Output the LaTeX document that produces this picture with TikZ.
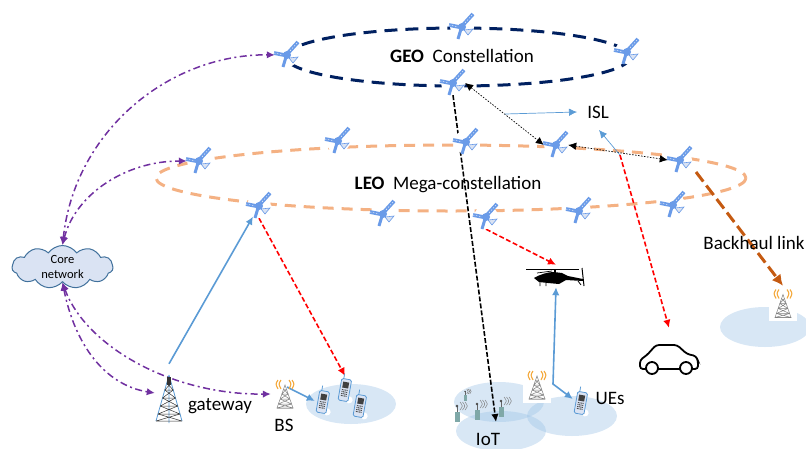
\documentclass[tikz,border=0pt]{standalone}
\usepackage{fontspec}
\setmainfont{Carlito}
\usetikzlibrary{shapes.symbols,arrows.meta}
\pgfdeclarelayer{links}
\pgfsetlayers{links,main}

\definecolor{satblue}{HTML}{6A9BE8}
\definecolor{geonavy}{HTML}{002060}
\definecolor{leopeach}{HTML}{F4B183}
\definecolor{corepurple}{HTML}{7030A0}
\definecolor{linkblue}{HTML}{5B9BD5}
\definecolor{backbrown}{HTML}{C55A11}
\definecolor{cellblue}{HTML}{9DC3E6}
\definecolor{cloudfill}{HTML}{DAE3F3}
\definecolor{cloudline}{HTML}{41719C}
\definecolor{waveorange}{HTML}{F4A93C}
\definecolor{iotteal}{HTML}{7FA8A8}

\tikzset{
  satbox/.style={circle,fill=white,inner sep=0pt,minimum size=24pt},
  towerbox/.style={inner sep=0pt,minimum width=28pt,minimum height=58pt},
  antbox/.style={fill=white,inner sep=0pt,minimum width=28pt,minimum height=35pt},
  phonebox/.style={inner sep=0pt,minimum width=16pt,minimum height=26pt},
  label/.style={inner sep=0pt,font=\fontsize{19}{21}\selectfont},
  geoorbit/.style={geonavy,line width=3pt,dash pattern=on 13pt off 8pt},
  leoorbit/.style={leopeach,line width=3pt,dash pattern=on 11pt off 8pt},
  corelink/.style={corepurple,line width=1.5pt,dash pattern=on 7pt off 3.5pt on 2pt off 3.5pt},
  bluelink/.style={linkblue,line width=1.6pt},
  isllabel/.style={linkblue,line width=.7pt},
  isllink/.style={black,line width=.7pt,dash pattern=on 1.5pt off 1.5pt},
  redlink/.style={red,line width=1.6pt,dash pattern=on 5pt off 2.5pt},
  blacklink/.style={black,line width=1.6pt,dash pattern=on 5pt off 2pt},
  backlink/.style={backbrown,line width=3pt,dash pattern=on 12pt off 5pt,>={Latex[length=11pt,width=11pt]}},
  satellite/.pic={
    \draw[satblue,line width=3.8pt] (-13,-2) -- (-3,0);
    \draw[white,line width=.4pt,dash pattern=on 1.5pt off 1.5pt] (-13,-2) -- (-3,0);
    \draw[satblue,line width=3.8pt] (1,-2) -- (11,-13);
    \draw[white,line width=.4pt,dash pattern=on 1.5pt off 1.5pt] (1,-2) -- (11,-13);
    \draw[satblue,line width=3pt] (-1,2) -- (-4,12);
    \draw[satblue,fill=cloudfill,line width=.6pt] (2,3) -- (11,2) -- (6,8) -- cycle;
    \fill[satblue] (0,0) circle (4);
  },
  antenna/.pic={
    \draw[gray,line width=.5pt] (0,-9) -- (-8,14) -- (8,14) -- cycle;
    \foreach \ya/\yb in {-5/0,0/5,5/10,10/14}{
      \pgfmathsetmacro{\wa}{8*(\ya+9)/23}
      \pgfmathsetmacro{\wb}{8*(\yb+9)/23}
      \draw[gray,line width=.5pt] (-\wa,\ya) -- (\wb,\yb) (\wa,\ya) -- (-\wb,\yb) (-\wb,\yb) -- (\wb,\yb);
    }
    \foreach \r in {4,7}{
      \draw[waveorange,line width=1.1pt] (-\r,-14) .. controls (-\r-2.5,-10) .. (-\r,-5);
      \draw[waveorange,line width=1.1pt] (\r,-14) .. controls (\r+2.5,-10) .. (\r,-5);
    }
  },
  phone/.pic={
    \fill[white] (6,10) circle (3.5);
    \draw[linkblue,line width=.8pt] (-3,-10) -- (-3,-15);
    \draw[linkblue,fill=cloudfill,line width=.8pt,rounded corners=1.5pt] (-5,-10) rectangle (5,12);
    \fill[black!75] (-3,-7) rectangle (3,-1);
    \foreach \y in {1,3,5,7}
      \draw[black!70,line width=1pt,dash pattern=on 1pt off .6pt] (-3,\y) -- (3,\y);
  },
  gatewaytower/.pic={
    \draw[linkblue,line width=.8pt] (0,-22) -- (-13,24) (0,-22) -- (13,24) (0,-22) -- (0,26);
    \foreach \ya/\yb in {-14/-7,-7/1,1/9,9/17,17/24}{
      \pgfmathsetmacro{\wa}{13*(\ya+22)/46}
      \pgfmathsetmacro{\wb}{13*(\yb+22)/46}
      \draw[black!80,line width=.5pt] (-\wa,\ya) -- (\wb,\yb) (\wa,\ya) -- (-\wb,\yb) (-\wb,\yb) -- (\wb,\yb);
    }
    \fill[black!80] (-2,-20) rectangle (2,-12);
  },
  iotdevice/.pic={
    \fill[iotteal] (-2.5,-5) rectangle (2.5,5);
    \draw[black!60,line width=.8pt] (0,-5) -- (0,-11);
    \fill[black!70] (0,-11) circle (1.3);
    \foreach \r in {3,5.5,8}
      \draw[gray,line width=.5pt] (\r,-15) .. controls (\r+3,-11) .. (\r,-7);
  },
  helicopter/.pic={
    \draw[black,line width=.9pt] (-30,-7) -- (23,-7);
    \draw[black,line width=1.4pt] (-1,-7) -- (-1,-3);
    \fill[black] (-22,2) .. controls (-15,-2) and (-8,-4) .. (-2,-4) -- (6,-3) -- (12,0) -- (27,3) -- (27,5)
      -- (10,4) -- (3,8) -- (-8,7) -- (-17,6) -- cycle;
    \draw[black,line width=1pt] (26,-8) -- (28,10);
    \draw[black,line width=.8pt] (-16,6) -- (-16,10) (-10,7) -- (-10,10) (22,5) -- (25,9);
    \draw[black,line width=.7pt] (-19,-3) -- (-4,-5);
  },
  carshape/.pic={
    \draw[black,line width=1.8pt,rounded corners=3pt,fill=white]
      (-29,10) -- (-29,1) -- (-22,-4) -- (-13,-14) -- (8,-14) -- (18,-5) -- (27,-3) -- (29,2) -- (29,10) -- cycle;
    \draw[black,line width=1.8pt,fill=white] (-17,9) circle (6) (17,9) circle (6);
  }
}

\begin{document}
\begin{tikzpicture}[x=1pt,y=-1pt,>={Latex[length=8pt,width=7.5pt]}]
\useasboundingbox (0,0) rectangle (806,448);

%draw satellites
    \foreach \name/\xpos/\ypos in {geoa/287/55,geob/462/27,geoc/627/52,geod/453/83,
      leoa/199/161,leob/338/141,leoc/259/206,leod/383/214,leoe/466/142,leof/556/145,
      leog/680/160,leoh/486/217,leoi/579/211,leoj/673/205}{
      \node[satbox] (\name) at (\xpos,\ypos) {};
      \pic at (\name) {satellite};
    }

%draw ground nodes
    \node[cloud,draw=cloudline,fill=cloudfill,line width=1pt,cloud puffs=11,cloud puff arc=110,aspect=2.3,
      inner sep=0pt,minimum width=101pt,minimum height=43pt,align=center,
      font=\fontsize{12.5}{15}\selectfont] (core) at (62.5,267) {Core\\network};
    \node[towerbox] (gateway) at (169,393) {};
    \pic at (169,397) {gatewaytower};
    \node[antbox,fill=none] (bs) at (285,394) {};
    \pic at (bs) {antenna};
    \node[antbox] (iotant) at (537,385) {};
    \pic at (iotant) {antenna};
    \node[antbox] (backant) at (783,303.5) {};
    \pic at (backant) {antenna};
    \node[phonebox] (phonea) at (323,401) {};
    \pic[rotate=-10] at (phonea) {phone};
    \node[phonebox] (phoneb) at (345,389) {};
    \pic[rotate=-10] at (phoneb) {phone};
    \node[phonebox] (phonec) at (360,405) {};
    \pic[rotate=-10] at (phonec) {phone};
    \node[phonebox] (ue) at (581,402) {};
    \pic[rotate=-10] at (ue) {phone};
    \node[inner sep=0pt,minimum width=60pt,minimum height=22pt] (heli) at (556,276) {};
    \pic at (heli) {helicopter};
    \node[inner sep=0pt,minimum width=58pt,minimum height=62pt] (car) at (669,359) {};
    \pic at (669,359) {carshape};
    \foreach \xpos/\ypos in {457/417,477/415,501/412}
      \pic at (\xpos,\ypos) {iotdevice};
    \pic[scale=.6] at (465,398) {iotdevice};

%draw labels
    \node[label] (geotext) at (462,56) {\textbf{GEO}~~Constellation};
    \node[label] (leotext) at (448,185) {\textbf{LEO}~~Mega-constellation};
    \node[label] (isl) at (598,112) {ISL};
    \node[label] (backtext) at (754,243) {Backhaul link};
    \node[label] (gatewaytext) at (220,406) {gateway};
    \node[label] (bstext) at (284,425) {BS};
    \node[label] (uetext) at (610,398) {UEs};
    \node[label] (iottext) at (488,439) {IoT};

    \coordinate (islmid) at (620,155);
    \coordinate (isltop) at (505,114);
    \coordinate (islenda) at (577,112);
    \coordinate (islendb) at (599,130);
    \coordinate (backstart) at (696,172);
    \coordinate (iotend) at (496,422);
    \coordinate (uebend) at (553,384);
    \coordinate (bsstart) at (287,387);

    \begin{pgfonlayer}{links}
%draw coverage cells
    \foreach \xpos/\ypos in {351/404,765/327,499/402,501/431,572/416}
      \fill[cellblue,opacity=.4] (\xpos,\ypos) ellipse (45 and 20);

%draw orbits
    \draw[geoorbit] (458,57) ellipse (172 and 29);
    \draw[leoorbit] (451,178) ellipse (295 and 33);

%draw connectors
    \draw[corelink,<->] (core.north) .. controls (75,130) and (170,54) .. (geoa);
    \draw[corelink,<->] (core.north) .. controls (75,195) and (125,161) .. (leoa);
    \draw[corelink,<->] (core.south) .. controls (75,345) and (105,385) .. (gateway.west);
    \draw[corelink,<->] (core.south) .. controls (85,345) and (170,395) .. (bs.west);
    \draw[bluelink,->] (gateway.north) -- (leoc);
    \draw[bluelink,->] (bsstart) -- (phonea.west);
    \draw[bluelink,<->] (heli.south) -- (uebend) -- (ue.160);
    \draw[redlink,->] (leoc.south) -- (phoneb.north);
    \draw[redlink,->] (leoh.south) -- (heli.north);
    \draw[redlink,->] (islmid) -- (car.north);
    \draw[blacklink,->] (geod.south) -- (iotend);
    \draw[backlink,->] (backstart) -- (backant.north);
    \draw[isllink,<->] (geod.east) -- (leof.west);
    \draw[isllink,<->] (leof.east) -- (leog.west);
    \draw[isllabel,->] (isltop) -- (islenda);
    \draw[isllabel,->] (islmid) -- (islendb);
    \end{pgfonlayer}
\end{tikzpicture}
\end{document}
